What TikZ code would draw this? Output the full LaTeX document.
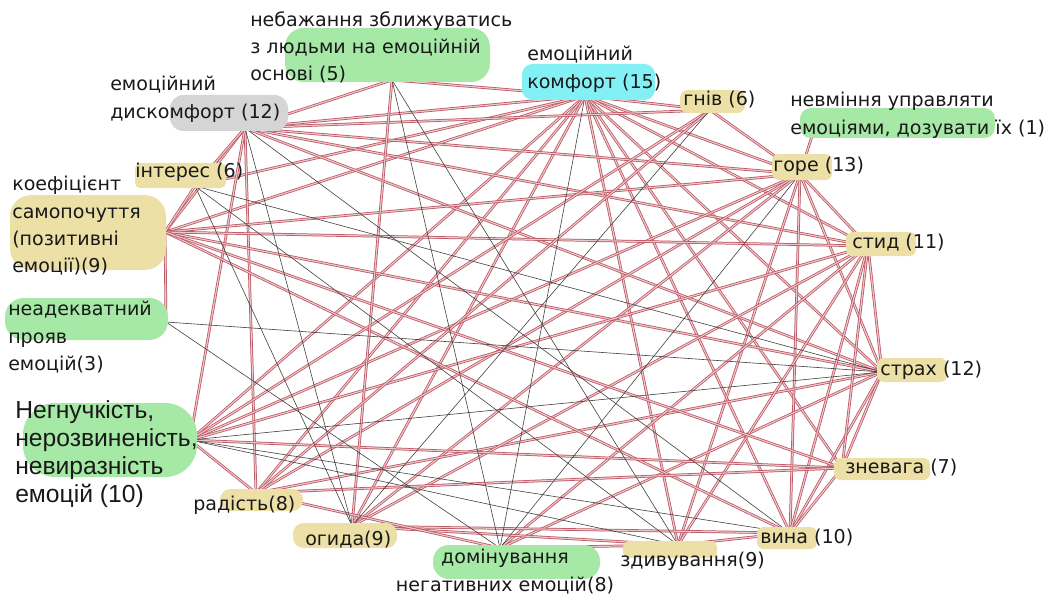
\documentclass[tikz,border=0pt]{standalone}
\usepackage{fontspec}
\setmainfont{DejaVu Sans}
\newfontfamily\arialfont{Liberation Sans}
\usepackage{tikz}
\usetikzlibrary{positioning}
\definecolor{linkred}{HTML}{B8505C}
\definecolor{linkpink}{HTML}{EDC6CA}
\definecolor{boxgreen}{HTML}{A6E9A6}
\definecolor{boxtan}{HTML}{ECE0A6}
\definecolor{boxcyan}{HTML}{82F0F5}
\definecolor{boxgray}{HTML}{D5D5D5}

\begin{document}
\begin{tikzpicture}[
        x=0.75pt, y=-0.75pt,
        every node/.style={font=\fontsize{14.3}{20.5}\selectfont, inner sep=0pt, text=black!90},
        lbl/.style={anchor=west},
        multi/.style={anchor=north west, align=left},
        strong/.style={draw=linkred, double=linkpink, line width=0.55pt, double distance=0.9pt},
        weak/.style={draw=black!75, line width=0.45pt}
    ]
    \useasboundingbox (0,0) rectangle (1059,599);

    % ============ точки сходження зв'язків ============
    \coordinate (ek)     at (585,96);
    \coordinate (ed)     at (245,128);
    \coordinate (nebazh) at (392,80);
    \coordinate (hniv)   at (710,110);
    \coordinate (nevm)   at (812,136);
    \coordinate (gore)   at (800,174);
    \coordinate (styd)   at (868,246);
    \coordinate (strakh) at (882,372);
    \coordinate (znev)   at (842,468);
    \coordinate (vyna)   at (790,533);
    \coordinate (zdyv)   at (678,545);
    \coordinate (domin)  at (500,548);
    \coordinate (ohyda)  at (352,526);
    \coordinate (radist) at (256,493);
    \coordinate (nehn)   at (190,440);
    \coordinate (neadek) at (166,322);
    \coordinate (koef)   at (165,232);
    \coordinate (inter)  at (195,186);

    % ============ сильні зв'язки ============
    \foreach \a/\b in {ek/ed, ek/nebazh, ek/hniv, ek/gore, ek/styd, ek/strakh, ek/znev,
            ek/vyna, ek/zdyv, ek/koef, ek/nehn, ek/radist, ek/ohyda, ek/inter,
            ed/gore, ed/styd, ed/strakh, ed/koef, ed/radist, ed/hniv, ed/nebazh, ed/nehn, ed/inter,
            gore/nevm, gore/styd, gore/strakh, gore/koef, gore/nehn, gore/radist, gore/ohyda,
            gore/vyna, gore/zdyv, gore/hniv,
            strakh/styd, strakh/koef, strakh/znev, strakh/vyna, strakh/domin, strakh/radist,
            styd/koef, styd/nehn, styd/vyna, styd/znev, styd/zdyv, styd/ohyda, styd/domin,
            vyna/zdyv, vyna/ohyda, vyna/znev, vyna/koef,
            nehn/radist, nehn/znev, nehn/hniv,
            koef/neadek, koef/inter, koef/znev,
            ohyda/zdyv, ohyda/nebazh,
            zdyv/domin, radist/hniv, radist/domin, radist/znev}
    \draw[strong] (\a) -- (\b);

    % ============ слабкі зв'язки ============
    \foreach \a/\b in {ek/domin, ed/ohyda, ed/vyna, gore/domin, strakh/nehn, strakh/inter,
            strakh/neadek, vyna/nehn, nehn/zdyv, ohyda/hniv, ohyda/inter, zdyv/inter,
            zdyv/nebazh, domin/neadek, domin/nebazh}
    \draw[weak] (\a) -- (\b);

    % ============ плашки ============
    \fill[boxgreen, rounded corners=14pt] (285,28) rectangle (490,82);
    \fill[boxcyan, rounded corners=8pt] (522,64) rectangle (655,100);
    \fill[boxtan, rounded corners=6pt] (680,90) rectangle (745,113);
    \fill[boxgreen, rounded corners=8pt] (800,108) rectangle (995,138);
    \fill[boxtan, rounded corners=5pt] (772,154) rectangle (832,180);
    \fill[boxtan, rounded corners=5pt] (846,232) rectangle (916,256);
    \fill[boxtan, rounded corners=5pt] (877,358) rectangle (947,382);
    \fill[boxtan, rounded corners=5pt] (834,458) rectangle (930,480);
    \fill[boxtan, rounded corners=5pt] (757,527) rectangle (817,549);
    \fill[boxtan, rounded corners=5pt] (623,541) rectangle (717,558);
    \fill[boxgreen, rounded corners=12pt] (433,545) rectangle (600,579);
    \fill[boxtan, rounded corners=8pt] (293,523) rectangle (397,548);
    \fill[boxtan, rounded corners=8pt] (220,489) rectangle (303,511);
    \fill[boxgreen, rounded corners=24pt] (23,403) rectangle (197,477);
    \fill[boxgreen, rounded corners=14pt] (5,298) rectangle (168,340);
    \fill[boxtan, rounded corners=16pt] (10,195) rectangle (166,270);
    \fill[boxtan, rounded corners=4pt] (135,163) rectangle (226,188);
    \fill[boxgray, rounded corners=10pt] (170,95) rectangle (288,131);

    % ============ підписи ============
    \node[multi] (t-nebazh) at (250,11) {небажання зближуватись\\з людьми на емоційній\\основі (5)};
    \node[multi] (t-ek) at (527,46) {емоційний\\комфорт (15)};
    \node[lbl] (t-hniv) at (683,100) {гнів (6)};
    \node[multi] (t-nevm) at (790,92) {невміння управляти\\емоціями, дозувати їх (1)};
    \node[lbl] (t-gore) at (773,166) {горе (13)};
    \node[lbl] (t-styd) at (852,243) {стид (11)};
    \node[lbl] (t-strakh) at (880,370) {страх (12)};
    \node[lbl] (t-znev) at (845,468) {зневага (7)};
    \node[lbl] (t-vyna) at (760,538) {вина (10)};
    \node[lbl] (t-zdyv) at (620,561) {здивування(9)};
    \node[anchor=north, align=center] (t-domin) at (505,549) {домінування\\негативних емоцій(8)};
    \node[lbl] (t-ohyda) at (305,540) {огида(9)};
    \node[lbl] (t-radist) at (193,505) {радість(8)};
    \node[multi, font=\arialfont\fontsize{18.5}{21.2}\selectfont] (t-nehn) at (15,400)
    {Негнучкість,\\нерозвиненість,\\невиразність\\емоцій (10)};
    \node[multi] (t-neadek) at (8,301) {неадекватний\\прояв\\емоцій(3)};
    \node[multi] (t-koef) at (12,176) {коефіцієнт\\самопочуття\\(позитивні\\емоції)(9)};
    \node[lbl] (t-inter) at (135,172) {інтерес (6)};
    \node[multi] (t-ed) at (110,76) {емоційний\\дискомфорт (12)};
\end{tikzpicture}
\end{document}
